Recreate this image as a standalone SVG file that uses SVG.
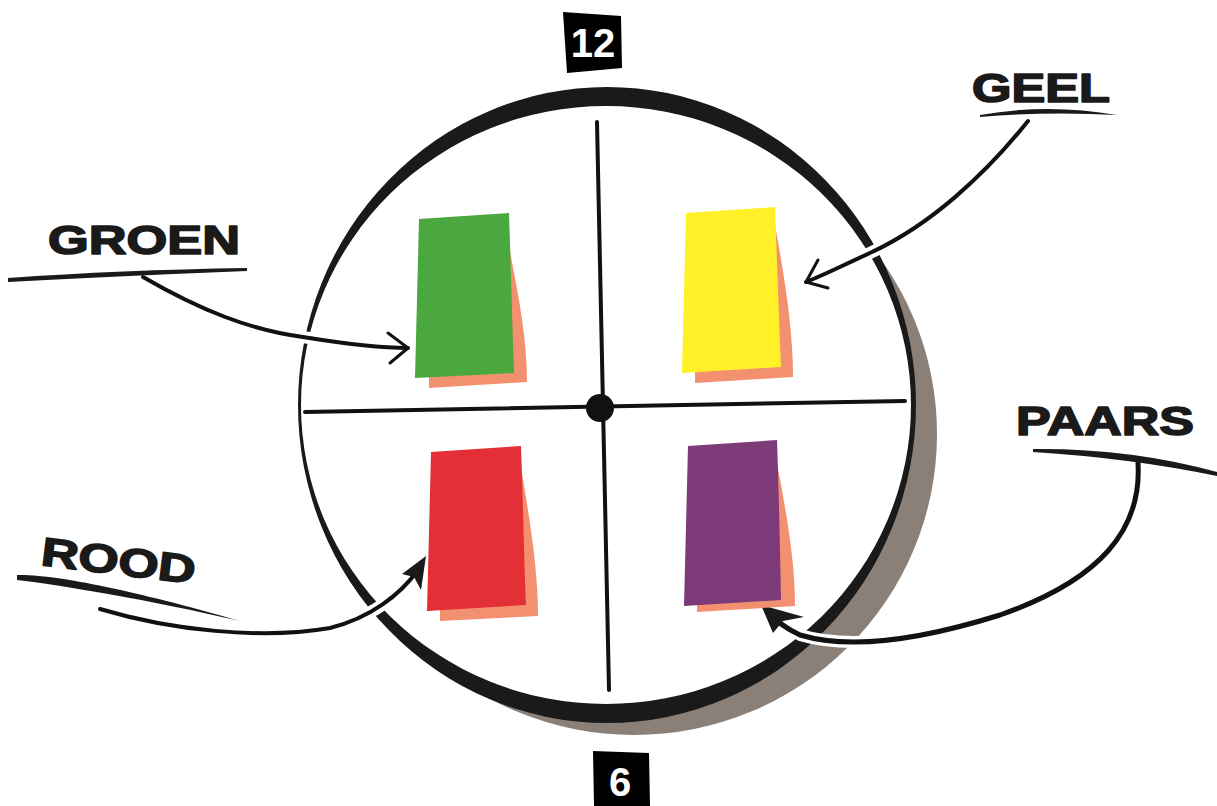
<svg xmlns="http://www.w3.org/2000/svg" width="1217" height="806" viewBox="0 0 1217 806">
<style>
.ink{fill:#1a1a1a}
.lbl{font-family:"Liberation Sans",Arial,sans-serif;font-weight:bold;font-size:40px;fill:#1a1a1a;stroke:#1a1a1a;stroke-width:1.6;stroke-linejoin:round}
.num{font-family:"Liberation Sans",Arial,sans-serif;font-weight:bold;font-size:40px;fill:#ffffff;text-anchor:middle}
.halo{fill:none;stroke:#ffffff;stroke-width:12;stroke-linecap:round}
.wire{fill:none;stroke:#111111;stroke-linecap:round;stroke-linejoin:round}
.salmon{fill:#f2906f}
</style>
<rect width="1217" height="806" fill="#ffffff"/>
<g id="clock">
  <ellipse cx="634" cy="434" rx="303" ry="301" fill="#8b8078"/>
  <ellipse cx="606" cy="405" rx="306" ry="300" fill="#ffffff"/>
  <path class="ink" fill-rule="evenodd" d="M298,405 A309,318 0 1,0 916,405 A309,318 0 1,0 298,405 Z M301,405 A305,299 0 1,0 911,405 A305,299 0 1,0 301,405 Z"/>
</g>
<g id="crosshair">
  <line x1="597" y1="122" x2="609" y2="690" stroke="#111" stroke-width="4" stroke-linecap="round"/>
  <line x1="305" y1="412" x2="905" y2="401" stroke="#111" stroke-width="4" stroke-linecap="round"/>
  <circle cx="600" cy="408" r="14" fill="#111"/>
</g>
<g id="connectors">
  <path class="halo" d="M150,281 C200,310 250,330 303,337 C340,343 380,348 400,348"/>
  <path class="wire" stroke-width="4" d="M143,277 C200,310 250,330 303,337 C340,343 380,348 408,348"/>
  <path class="wire" stroke-width="3" d="M388,333 L408,348 L390,363"/>

  <path class="halo" d="M1020,131 C985,175 930,225 872,252 S830,272 815,278"/>
  <path class="wire" stroke-width="4" d="M1028,121 C985,175 930,225 872,252 S830,272 806,282"/>
  <path class="wire" stroke-width="3" d="M818,260 L806,282 L828,288"/>

  <path class="halo" d="M1138,470 C1142,530 1100,580 1000,615 C920,640 850,650 800,635"/>
  <path class="wire" stroke-width="5" d="M1138,463 C1142,530 1100,580 1000,615 C920,640 850,650 800,635 C785,628 775,620 768,612"/>
  <path class="ink" d="M761,605 L804,617 L783,621 L773,633 Z"/>

  <path class="halo" d="M108,612 C170,630 260,640 330,628 C370,618 395,598 412,578"/>
  <path class="wire" stroke-width="4" d="M100,609 C170,630 260,640 330,628 C370,618 400,595 418,570"/>
  <path class="ink" d="M426,556 L402,574 L414,577 L421,590 Z"/>
</g>
<g id="note-groen">
  <path class="salmon" d="M505,225 C515,280 527,330 527,382 L429,388 L429,372 Z"/>
  <path fill="#4aa83f" d="M419,219 L509,213 C511,270 512,320 514,373 L415,378 Z"/>
</g>
<g id="note-geel">
  <path class="salmon" d="M775,225 C785,280 793,330 793,377 L695,383 L695,365 Z"/>
  <path fill="#fff027" d="M686,213 L775,207 C777,260 779,320 781,367 L682,373 Z"/>
</g>
<g id="note-rood">
  <path class="salmon" d="M520,462 C530,520 538,570 538,616 L440,621 L440,605 Z"/>
  <path fill="#e32f35" d="M431,452 L521,446 C523,500 524,560 526,605 L427,611 Z"/>
</g>
<g id="note-paars">
  <path class="salmon" d="M776,458 C786,510 795,560 795,606 L697,612 L697,598 Z"/>
  <path fill="#7d3a78" d="M688,446 L777,440 C779,500 780,550 781,600 L684,606 Z"/>
</g>
<g id="label-groen">
  <text class="lbl" x="48" y="254" textLength="192" lengthAdjust="spacingAndGlyphs">GROEN</text>
  <path class="ink" d="M8,278 Q120,270 247,268 L247,271 Q120,276 8,282 Z"/>
</g>
<g id="label-geel">
  <text class="lbl" x="972" y="102" textLength="138" lengthAdjust="spacingAndGlyphs">GEEL</text>
  <path class="ink" d="M980,115 Q1048,103 1117,115 Q1048,111 980,117 Z"/>
</g>
<g id="label-paars">
  <text class="lbl" x="1016" y="435" textLength="178" lengthAdjust="spacingAndGlyphs">PAARS</text>
  <path class="ink" d="M1033,449 Q1130,448 1217,472 L1217,476 Q1130,458 1033,452 Z"/>
</g>
<g id="label-rood">
  <text class="lbl" x="40" y="565" textLength="155" lengthAdjust="spacingAndGlyphs" transform="rotate(7 40 565)">ROOD</text>
  <path class="ink" d="M17,575 C60,574 150,595 240,621 C150,600 60,585 17,580 Z"/>
</g>
<g id="mark-12">
  <path fill="#000" d="M563,12 L621,16 L622,68 L567,73 Z"/>
  <text class="num" x="593" y="57">12</text>
</g>
<g id="mark-6">
  <path fill="#000" d="M593,751 L649,753 L650,806 L594,806 Z"/>
  <text class="num" x="620" y="796">6</text>
</g>
</svg>
